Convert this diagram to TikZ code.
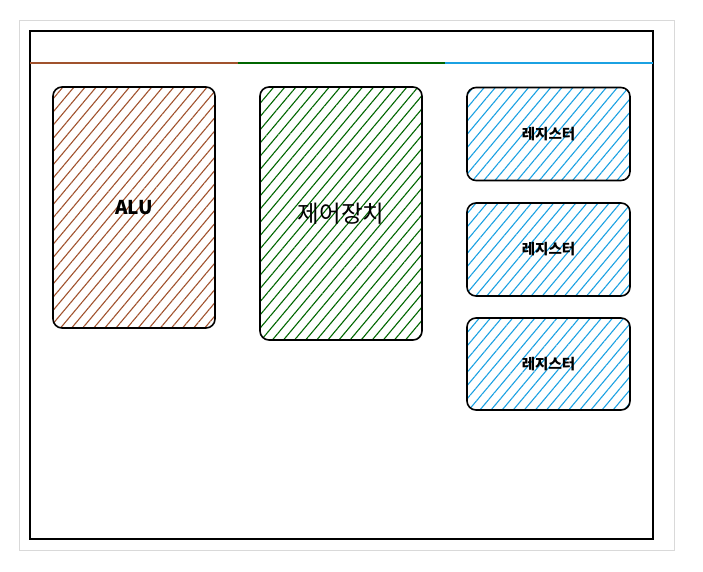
\documentclass[tikz,border=0pt]{standalone}
\usepackage{fontspec}
\setmainfont{Noto Sans CJK KR}
\usetikzlibrary{patterns.meta,positioning}
\definecolor{alubrown}{HTML}{A0522D}
\definecolor{ctrlgreen}{HTML}{006600}
\definecolor{regblue}{HTML}{1BA1E2}
\definecolor{framegray}{HTML}{D9D9D9}

\begin{document}
\begin{tikzpicture}[x=1pt,y=-1pt,
  unit/.style={draw=black,line width=1.6pt,rounded corners=9pt,inner sep=0pt},
  hatch/.style={pattern={Lines[angle=50,distance=8.5pt,line width=1.1pt]},pattern color=#1},
  regbox/.style={unit,hatch=regblue,minimum width=163pt,minimum height=93pt,
    font=\bfseries\fontsize{14.5}{16}\selectfont}]
\useasboundingbox (0,0) rectangle (703,572);
\draw[framegray,line width=0.8pt] (19,20) rectangle (674,550);
\draw[line width=1.4pt] (30,31) rectangle (653,539);
% title bar split
\draw[alubrown,line width=1.3pt] (30,63)--(238,63);
\draw[ctrlgreen,line width=1.3pt] (238,63)--(445,63);
\draw[regblue,line width=1.3pt] (445,63)--(653,63);
% units
\node[unit,hatch=alubrown,minimum width=162pt,minimum height=241pt,
  font=\bfseries\fontsize{19}{21}\selectfont] (alu) at (134,207.5) {ALU};
\node[unit,hatch=ctrlgreen,minimum width=162pt,minimum height=253pt,
  font=\fontsize{23.5}{26}\selectfont] (ctrl) at (341,213.5) {제어장치};
\node[regbox] (reg1) at (548.5,134) {레지스터};
\node[regbox] (reg2) at (548.5,249.5) {레지스터};
\node[regbox,minimum height=92pt] (reg3) at (548.5,364) {레지스터};
\end{tikzpicture}
\end{document}
